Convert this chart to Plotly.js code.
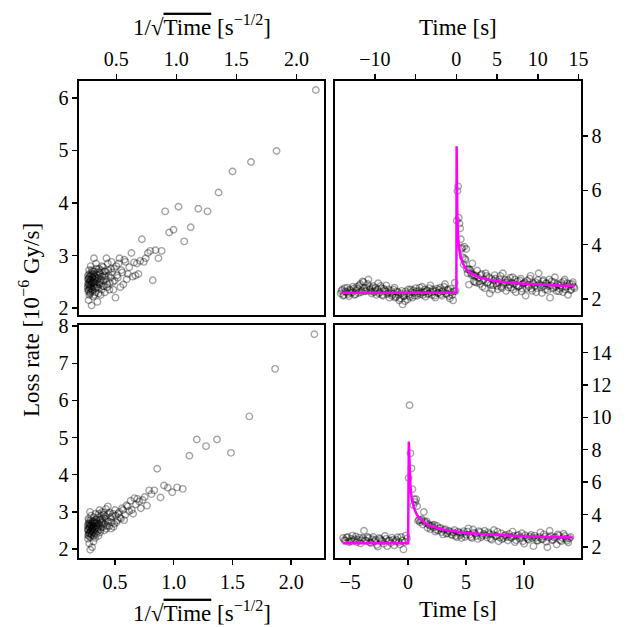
<!DOCTYPE html>
<html>
<head>
<meta charset="utf-8">
<script src="https://cdn.plot.ly/plotly-3.0.1.min.js"></script>
<style>html,body{margin:0;padding:0;background:#fff;}#plot{width:628px;height:627px;}</style>
</head>
<body>
<div id="plot"></div>
<script>
// ---------- Event 1 (top row) ----------
const topPreTime = [-14.2,-14.0,-13.8,-13.6,-13.4,-13.2,-13.0,-12.8,-12.6,-12.4,
  -12.2,-12.0,-11.8,-11.6,-11.4,-11.2,-11.0,-10.8,-10.6,-10.4,
  -10.2,-10.0,-9.8,-9.6,-9.4,-9.2,-9.0,-8.8,-8.6,-8.4,
  -8.2,-8.0,-7.8,-7.6,-7.4,-7.2,-7.0,-6.8,-6.6,-6.4,
  -6.2,-6.0,-5.8,-5.6,-5.4,-5.2,-5.0,-4.8,-4.6,-4.4,
  -4.2,-4.0,-3.8,-3.6,-3.4,-3.2,-3.0,-2.8,-2.6,-2.4,
  -2.2,-2.0,-1.8,-1.6,-1.4,-1.2,-1.0,-0.8,-0.6,-0.4,-0.2];
const topPreLoss = [2.20,2.35,2.15,2.28,2.42,2.10,2.31,2.25,2.38,2.18,
  2.45,2.22,2.55,2.30,2.62,2.28,2.40,2.72,2.35,2.20,
  2.48,2.30,2.15,2.58,2.25,2.40,2.12,2.33,2.50,2.22,
  2.05,2.30,2.18,2.42,2.08,2.25,1.95,2.20,1.80,2.10,
  2.28,1.98,2.15,2.35,2.05,2.22,2.40,2.12,2.30,2.18,
  2.45,2.25,2.08,2.32,2.20,2.50,2.15,2.28,2.05,2.38,
  2.22,2.42,2.12,2.30,2.55,2.18,2.35,2.02,2.25,1.95,2.60];
const topPreTimeB = [-14.1,-13.9,-13.7,-13.5,-13.3,-13.1,-12.9,-12.7,-12.5,-12.3,
  -12.1,-11.9,-11.7,-11.5,-11.3,-11.1,-10.9,-10.7,-10.5,-10.3,
  -10.1,-9.9,-9.7,-9.5,-9.3,-9.1,-8.9,-8.7,-8.5,-8.3,
  -8.1,-7.9,-7.7,-7.5,-7.3,-7.1,-6.9,-6.7,-6.5,-6.3,
  -6.1,-5.9,-5.7,-5.5,-5.3,-5.1,-4.9,-4.7,-4.5,-4.3,
  -4.1,-3.9,-3.7,-3.5,-3.3,-3.1,-2.9,-2.7,-2.5,-2.3,
  -2.1,-1.9,-1.7,-1.5,-1.3,-1.1,-0.9,-0.7,-0.5,-0.3,-0.1];
const topPreLossB = [2.30,2.12,2.40,2.25,2.18,2.35,2.22,2.45,2.15,2.32,
  2.38,2.50,2.25,2.65,2.42,2.30,2.55,2.45,2.28,2.40,
  2.25,2.42,2.35,2.20,2.48,2.15,2.38,2.28,2.18,2.35,
  2.22,2.12,2.35,2.05,2.28,2.15,2.02,2.30,2.10,1.92,
  2.20,2.35,2.08,2.25,2.32,2.12,2.28,2.20,2.42,2.25,
  2.15,2.35,2.28,2.18,2.40,2.25,2.35,2.12,2.30,2.22,
  2.35,2.18,2.28,2.45,2.20,2.32,2.10,2.38,2.15,2.28,2.30];
const topPostTime = [0.047,0.13,0.214,0.297,0.38,0.464,0.547,0.63,0.714,0.797,
  0.88,0.964,1.047,1.13,1.214,1.297,1.38,1.464,1.547,1.63,
  1.714,1.797,1.88,1.964,2.047,2.13,2.214,2.297,2.38,2.464,2.547,
  2.7,2.9,3.1,3.3,3.5,3.7,3.9,4.1,4.3,4.5,
  4.7,4.9,5.1,5.3,5.5,5.7,5.9,6.1,6.3,6.5,
  6.7,6.9,7.1,7.3,7.5,7.7,7.9,8.1,8.3,8.5,
  8.7,8.9,9.1,9.3,9.5,9.7,9.9,10.1,10.3,10.5,
  10.7,10.9,11.1,11.3,11.5,11.7,11.9,12.1,12.3,12.5,
  12.7,12.9,13.1,13.3,13.5,13.7,13.9,14.1,14.3,14.5];
const topPostLoss = [4.88,5.98,6.15,4.99,4.78,4.60,4.20,3.84,3.89,3.54,
  3.27,3.93,3.49,3.44,3.84,3.09,2.95,3.10,2.53,3.09,
  3.05,2.95,2.88,3.31,2.90,2.65,2.85,2.62,2.87,2.60,3.05,
  2.78,2.55,2.92,2.68,2.40,2.85,2.62,2.20,2.75,2.50,
  2.88,2.58,2.35,2.72,2.45,2.95,2.60,2.30,2.70,2.52,
  2.42,2.80,2.55,2.25,2.65,2.48,2.75,2.38,2.58,2.12,
  2.68,2.45,2.85,2.30,2.55,2.62,2.40,2.95,2.50,2.22,
  2.70,2.35,2.58,2.48,2.05,2.65,2.42,2.80,2.30,2.52,
  2.38,2.60,2.25,2.72,2.45,2.15,2.55,2.35,2.62,2.40];
const topPostTimeB = [2.8,3.0,3.2,3.4,3.6,3.8,4.0,4.2,4.4,4.6,
  4.8,5.0,5.2,5.4,5.6,5.8,6.0,6.2,6.4,6.6,
  6.8,7.0,7.2,7.4,7.6,7.8,8.0,8.2,8.4,8.6,
  8.8,9.0,9.2,9.4,9.6,9.8,10.0,10.2,10.4,10.6,
  10.8,11.0,11.2,11.4,11.6,11.8,12.0,12.2,12.4,12.6,
  12.8,13.0,13.2,13.4,13.6,13.8,14.0,14.2,14.4];
const topPostLossB = [2.65,2.88,2.45,2.72,2.95,2.58,2.80,2.52,2.35,2.68,
  2.75,2.48,2.62,2.85,2.40,2.55,2.70,2.62,2.42,2.78,
  2.60,2.35,2.72,2.50,2.45,2.68,2.28,2.55,2.62,2.40,
  2.52,2.75,2.38,2.60,2.48,2.25,2.70,2.55,2.42,2.65,
  2.48,2.58,2.32,2.72,2.50,2.38,2.62,2.45,2.55,2.28,
  2.50,2.42,2.65,2.35,2.58,2.48,2.32,2.55,2.45];
const topFitTime = [-14.2,0,0.031,0.05,0.08,0.12,0.2,0.3,0.5,0.75,1,1.5,2,3,4,5,6,8,10,12,14.5];
const topFitLoss = [2.23,2.23,7.63,6.52,5.62,5.00,4.38,3.98,3.59,3.34,3.19,3.01,2.91,2.78,2.71,2.66,2.62,2.57,2.53,2.51,2.48];

// ---------- Event 2 (bottom row) ----------
const botPreTime = [-5.6,-5.4,-5.2,-5.0,-4.8,-4.6,-4.4,-4.2,-4.0,-3.8,
  -3.6,-3.4,-3.2,-3.0,-2.8,-2.6,-2.4,-2.2,-2.0,-1.8,
  -1.6,-1.4,-1.2,-1.0,-0.8,-0.6,-0.4,-0.2];
const botPreLoss = [2.55,2.40,2.62,2.35,2.70,2.48,2.30,2.58,2.42,3.00,
  2.38,2.55,2.25,2.62,2.45,2.02,2.50,2.35,2.68,2.05,
  2.40,2.58,2.10,2.45,2.30,2.62,1.85,2.70];
const botPreTimeB = [-5.5,-5.3,-5.1,-4.9,-4.7,-4.5,-4.3,-4.1,-3.9,-3.7,
  -3.5,-3.3,-3.1,-2.9,-2.7,-2.5,-2.3,-2.1,-1.9,-1.7,
  -1.5,-1.3,-1.1,-0.9,-0.7,-0.5,-0.3,-0.1];
const botPreLossB = [2.42,2.58,2.30,2.50,2.38,2.65,2.45,2.22,2.55,2.40,
  2.62,2.28,2.48,2.35,2.12,2.55,2.42,2.20,2.50,2.38,
  2.25,2.45,2.35,2.60,2.15,2.40,2.30,2.52];
const botPostTime = [0.04,0.124,0.207,0.288,0.37,0.452,0.534,0.615,0.699,0.779,
  0.862,0.945,1.027,1.11,1.19,1.27,1.355,1.437,1.52,1.60,
  1.68,1.765,1.85,1.93,2.01,2.095,2.18,2.26,2.34,2.42,2.50,
  2.6,2.8,3.0,3.2,3.4,3.6,3.8,4.0,4.2,4.4,
  4.6,4.8,5.0,5.2,5.4,5.6,5.8,6.0,6.2,6.4,
  6.6,6.8,7.0,7.2,7.4,7.6,7.8,8.0,8.2,8.4,
  8.6,8.8,9.0,9.2,9.4,9.6,9.8,10.0,10.2,10.4,
  10.6,10.8,11.0,11.2,11.4,11.6,11.8,12.0,12.2,12.4,
  12.6,12.8,13.0,13.2,13.4,13.6,13.8,14.0];
const botPostLoss = [6.26,10.75,7.78,6.85,5.57,4.59,4.95,4.77,4.95,4.51,
  3.62,3.66,3.53,3.65,3.71,3.39,4.16,3.58,3.48,3.58,
  3.17,3.40,3.32,3.10,3.28,3.35,3.20,3.37,2.95,3.05,3.30,
  3.02,3.18,2.78,3.10,2.85,2.95,2.72,3.05,2.60,2.88,
  2.55,2.98,2.75,3.15,2.62,3.08,2.82,2.50,2.92,2.70,
  3.00,2.58,2.80,2.45,3.05,2.68,2.35,2.85,2.55,2.75,
  2.40,2.62,2.95,2.30,2.70,2.52,2.85,2.20,2.60,2.45,
  2.75,2.05,2.55,2.38,2.90,2.48,2.65,1.98,3.00,2.42,
  2.58,2.15,2.70,2.35,2.82,2.50,2.28,2.62];
const botPostTimeB = [2.7,2.9,3.1,3.3,3.5,3.7,3.9,4.1,4.3,4.5,
  4.7,4.9,5.1,5.3,5.5,5.7,5.9,6.1,6.3,6.5,
  6.7,6.9,7.1,7.3,7.5,7.7,7.9,8.1,8.3,8.5,
  8.7,8.9,9.1,9.3,9.5,9.7,9.9,10.1,10.3,10.5,
  10.7,10.9,11.1,11.3,11.5,11.7,11.9,12.1,12.3,12.5,
  12.7,12.9,13.1,13.3,13.5,13.7,13.9];
const botPostLossB = [3.15,2.92,3.05,2.82,3.00,2.78,2.90,2.68,2.95,2.72,
  2.85,2.62,2.95,2.75,2.55,2.88,2.68,2.98,2.60,2.80,
  2.72,2.90,2.52,2.78,2.65,2.95,2.58,2.48,2.70,2.62,
  2.80,2.55,2.68,2.42,2.75,2.60,2.35,2.72,2.50,2.65,
  2.55,2.70,2.40,2.62,2.48,2.78,2.32,2.58,2.68,2.45,
  2.62,2.78,2.42,2.55,2.68,2.38,2.52];
const botFitTime = [-5.6,0,0.0625,0.1,0.15,0.2,0.3,0.5,0.75,1,1.5,2,3,4,5,6,8,10,12,14.2];
const botFitLoss = [2.23,2.23,8.51,7.19,6.27,5.72,5.06,4.41,4.00,3.75,3.46,3.28,3.08,2.96,2.87,2.81,2.72,2.66,2.62,2.58];

// tick labels
const invTicks = [0.5,1.0,1.5,2.0];
const invTickText = ['0.5','1.0','1.5','2.0'];
const topTimeTicks = [-10,-5,0,5,10,15];
const topTimeText = ['\u221210','','0','5','10','15'];
const botTimeTicks = [-5,0,5,10];
const botTimeText = ['\u22125','0','5','10'];
const topLossTicks = [2,3,4,5,6];
const topRightTicks = [2,4,6,8];
const botLossTicks = [2,3,4,5,6,7,8];
const botRightTicks = [2,4,6,8,10,12,14];

const FONT = 'Liberation Serif, Times New Roman, DejaVu Serif, serif';
const W = 628, H = 627;
const px = v => v / W;
const py = v => 1 - v / H;

const markerStyle = {symbol:'circle-open', size:6.5, color:'rgba(0,0,0,0.36)', line:{width:1.4}};
const fitStyle = {color:'#ff00ff', width:2.5};

function scatter(x, y, xa, ya) {
  return {x:x, y:y, xaxis:xa, yaxis:ya, type:'scatter', mode:'markers', marker:markerStyle, hoverinfo:'skip'};
}
const inv = arr => arr.map(t => 1/Math.sqrt(t));

const topPostT = topPostTime.concat(topPostTimeB), topPostY = topPostLoss.concat(topPostLossB);
const botPostT = botPostTime.concat(botPostTimeB), botPostY = botPostLoss.concat(botPostLossB);

const data = [
  scatter(inv(topPostT), topPostY, 'x', 'y'),
  scatter(topPreTime.concat(topPreTimeB, topPostT), topPreLoss.concat(topPreLossB, topPostY), 'x2', 'y2'),
  {x:topFitTime, y:topFitLoss, xaxis:'x2', yaxis:'y2', type:'scatter', mode:'lines', line:fitStyle, hoverinfo:'skip'},
  scatter(inv(botPostT), botPostY, 'x3', 'y3'),
  scatter(botPreTime.concat(botPreTimeB, botPostT), botPreLoss.concat(botPreLossB, botPostY), 'x4', 'y4'),
  {x:botFitTime, y:botFitLoss, xaxis:'x4', yaxis:'y4', type:'scatter', mode:'lines', line:fitStyle, hoverinfo:'skip'}
];

const axBase = {showline:true, mirror:true, linecolor:'#000', linewidth:1.6, ticks:'outside', ticklen:5, tickwidth:1.4, tickcolor:'#000',
  showgrid:false, zeroline:false, tickmode:'array', tickfont:{family:FONT, size:20, color:'#000'}, fixedrange:true};
const ax = o => Object.assign({}, axBase, o);

const leftDom = [px(79), px(324)];
const rightDom = [px(335), px(581)];
const topDom = [py(315), py(81)];
const botDom = [py(558), py(325)];

const invTitle = '1/\u221A<span style="text-decoration:overline">Time</span> [s<sup>\u22121/2</sup>]';
const TF = {family:FONT, size:23, color:'#000'};

const layout = {
  width:W, height:H, margin:{l:0,r:0,t:0,b:0}, showlegend:false,
  paper_bgcolor:'#fff', plot_bgcolor:'#fff',
  font:{family:FONT, color:'#000'},
  xaxis: ax({domain:leftDom, anchor:'y', side:'top', range:[0.19,2.23], tickvals:invTicks, ticktext:invTickText}),
  yaxis: ax({domain:topDom, anchor:'x', side:'left', range:[1.87,6.32], tickvals:topLossTicks, ticktext:topLossTicks.map(String)}),
  xaxis2: ax({domain:rightDom, anchor:'y2', side:'top', range:[-14.9,15.3], tickvals:topTimeTicks, ticktext:topTimeText}),
  yaxis2: ax({domain:topDom, anchor:'x2', side:'right', range:[1.41,10.03], tickvals:topRightTicks, ticktext:topRightTicks.map(String)}),
  xaxis3: ax({domain:leftDom, anchor:'y3', side:'bottom', range:[0.193,2.28], tickvals:invTicks, ticktext:invTickText}),
  yaxis3: ax({domain:botDom, anchor:'x3', side:'left', range:[1.76,8.03], tickvals:botLossTicks, ticktext:botLossTicks.map(String)}),
  xaxis4: ax({domain:rightDom, anchor:'y4', side:'bottom', range:[-6.3,14.9], tickvals:botTimeTicks, ticktext:botTimeText}),
  yaxis4: ax({domain:botDom, anchor:'x4', side:'right', range:[1.32,15.7], tickvals:botRightTicks, ticktext:botRightTicks.map(String)}),
  annotations:[
    {xref:'paper', yref:'paper', x:px(201.5), y:py(26), xanchor:'center', yanchor:'middle', showarrow:false, text:invTitle, font:TF},
    {xref:'paper', yref:'paper', x:px(458), y:py(27), xanchor:'center', yanchor:'middle', showarrow:false, text:'Time [s]', font:TF},
    {xref:'paper', yref:'paper', x:px(201.5), y:py(611), xanchor:'center', yanchor:'middle', showarrow:false, text:invTitle, font:TF},
    {xref:'paper', yref:'paper', x:px(458), y:py(609), xanchor:'center', yanchor:'middle', showarrow:false, text:'Time [s]', font:TF},
    {xref:'paper', yref:'paper', x:px(29), y:py(320), xanchor:'center', yanchor:'middle', showarrow:false, textangle:-90, text:'Loss rate [10<sup>\u22126</sup> Gy/s]', font:TF}
  ]
};

Plotly.newPlot('plot', data, layout, {staticPlot:true, displayModeBar:false});
</script>
</body>
</html>
